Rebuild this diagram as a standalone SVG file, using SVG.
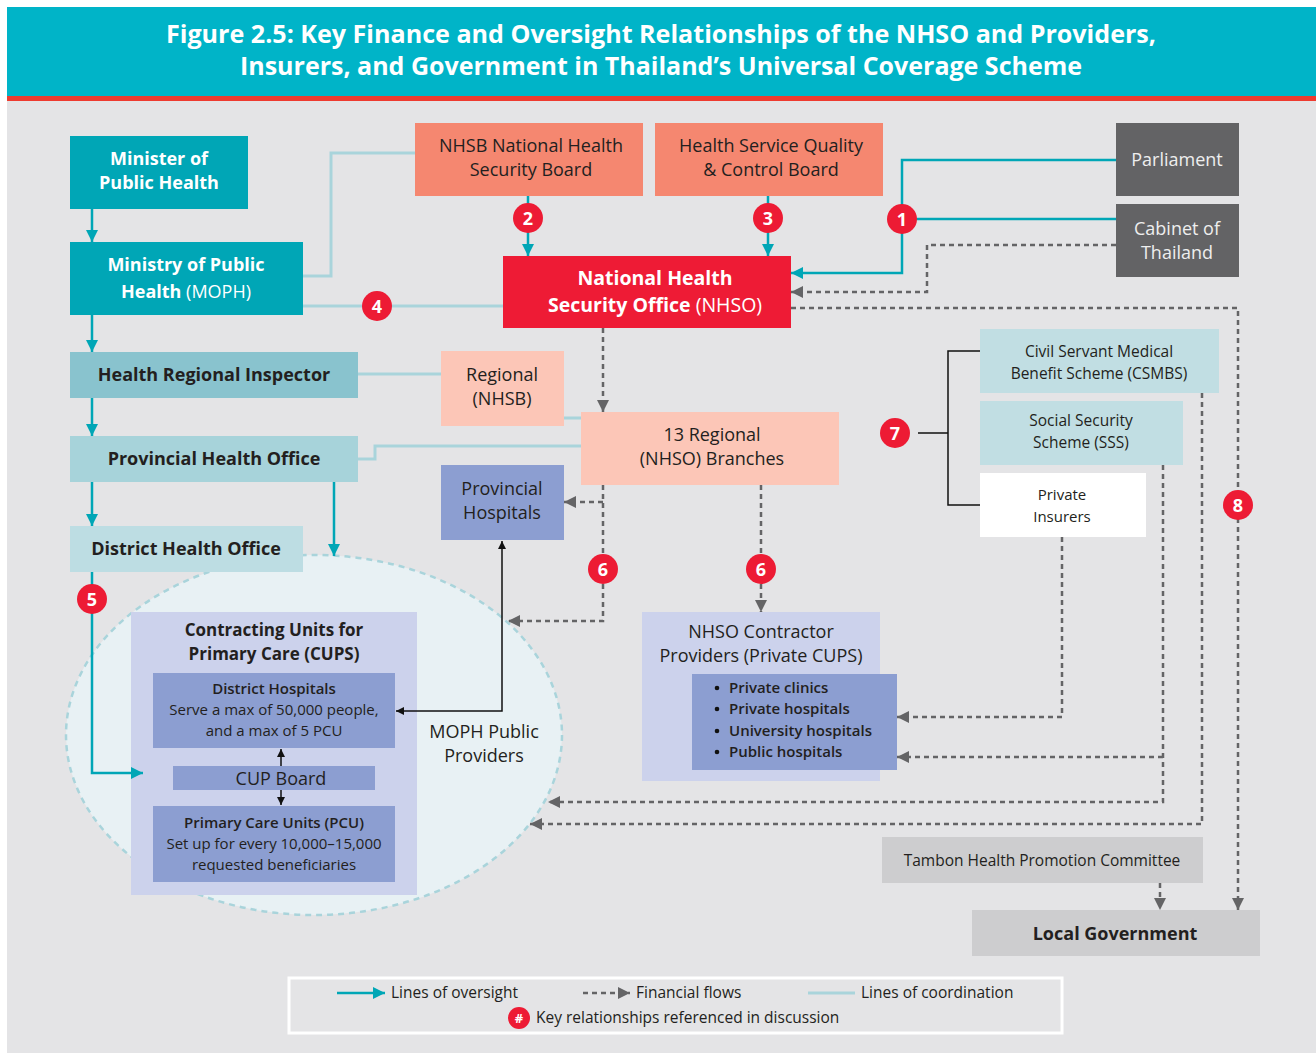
<svg xmlns="http://www.w3.org/2000/svg" width="1316" height="1053" viewBox="0 0 1316 1053">
<defs>
<style>
text{font-family:"Open Sans",Lato,"Liberation Sans",sans-serif;fill:#231F20;text-anchor:middle}
.w{fill:#fff}
.b{font-weight:700}
.t{font-size:18px}
.s{font-size:15.5px}
.m{font-size:15px}
.ov{fill:none;stroke:#00A6B6;stroke-width:2.5}
.fin{fill:none;stroke:#646466;stroke-width:2.5;stroke-dasharray:5 4}
.co{fill:none;stroke:#A9D4DB;stroke-width:3}
.blk{fill:none;stroke:#111;stroke-width:1.5}
.badge circle{fill:#ED1B34}
.badge text{fill:#fff;font-weight:700;font-size:18px}
.l{text-anchor:start}
</style>
<marker id="ta" viewBox="0 0 10 10" refX="10" refY="5" markerWidth="12" markerHeight="12" markerUnits="userSpaceOnUse" orient="auto"><path d="M0,0 L10,5 L0,10 z" fill="#00A6B6"/></marker>
<marker id="ga" viewBox="0 0 10 10" refX="10" refY="5" markerWidth="12" markerHeight="12" markerUnits="userSpaceOnUse" orient="auto"><path d="M0,0 L10,5 L0,10 z" fill="#646466"/></marker>
<marker id="ka" viewBox="0 0 10 10" refX="10" refY="5" markerWidth="8" markerHeight="8" markerUnits="userSpaceOnUse" orient="auto-start-reverse"><path d="M0,0 L10,5 L0,10 z" fill="#111"/></marker>
</defs>
<rect x="0" y="0" width="1316" height="1053" fill="#fff"/>
<rect x="7" y="101" width="1309" height="952" fill="#E4E4E6"/>
<g id="title">
<rect x="7" y="7" width="1309" height="90" fill="#00B4C8"/>
<rect x="7" y="96" width="1309" height="5" fill="#EE3B2F"/>
<text x="661" y="43" class="w b" font-size="25" textLength="990" lengthAdjust="spacingAndGlyphs">Figure 2.5: Key Finance and Oversight Relationships of the NHSO and Providers,</text>
<text x="661" y="75" class="w b" font-size="25" textLength="842" lengthAdjust="spacingAndGlyphs">Insurers, and Government in Thailand’s Universal Coverage Scheme</text>
</g>
<g id="moph-providers-ellipse">
<ellipse cx="314" cy="735" rx="248" ry="180" fill="#E8F1F4" stroke="#A9D4DB" stroke-width="2.5" stroke-dasharray="6 5"/>
<text x="484" y="738" class="t">MOPH Public</text>
<text x="484" y="762" class="t">Providers</text>
</g>
<g id="minister"><rect x="70" y="136" width="178" height="73" fill="#00A6B6"/><text x="159" y="165" class="w b t">Minister of</text><text x="159" y="189" class="w b t">Public Health</text></g>
<g id="moph"><rect x="70" y="242" width="233" height="73" fill="#00A6B6"/><text x="186" y="271" class="w b t">Ministry of Public</text><text x="186" y="298" class="w t"><tspan class="b">Health</tspan> (MOPH)</text></g>
<g id="hri"><rect x="70" y="352" width="288" height="46" fill="#89C3CE"/><text x="214" y="381" class="b t">Health Regional Inspector</text></g>
<g id="pho"><rect x="70" y="436" width="288" height="46" fill="#A7D3DA"/><text x="214" y="465" class="b t">Provincial Health Office</text></g>
<g id="dho"><rect x="70" y="526" width="233" height="46" fill="#BDDDE3"/><text x="186" y="555" class="b t">District Health Office</text></g>
<g id="nhsb"><rect x="415" y="123" width="228" height="73" fill="#F58770"/><text x="531" y="152" class="t">NHSB National Health</text><text x="531" y="176" class="t">Security Board</text></g>
<g id="hsqcb"><rect x="655" y="123" width="228" height="73" fill="#F58770"/><text x="771" y="152" class="t">Health Service Quality</text><text x="771" y="176" class="t">&amp; Control Board</text></g>
<g id="parliament"><rect x="1116" y="123" width="123" height="73" fill="#636365"/><text x="1177" y="166" class="t" style="fill:#eee">Parliament</text></g>
<g id="cabinet"><rect x="1116" y="204" width="123" height="73" fill="#636365"/><text x="1177" y="235" class="t" style="fill:#eee">Cabinet of</text><text x="1177" y="259" class="t" style="fill:#eee">Thailand</text></g>
<g id="nhso"><rect x="503" y="256" width="288" height="72" fill="#EE1B35"/><text x="655" y="285" class="w b" font-size="19.5">National Health</text><text x="655" y="312" class="w" font-size="19.5"><tspan class="b">Security Office</tspan> (NHSO)</text></g>
<g id="regional-nhsb"><rect x="441" y="351" width="123" height="75" fill="#FCC6B7"/><text x="502" y="381" class="t">Regional</text><text x="502" y="405" class="t">(NHSB)</text></g>
<g id="regional-nhso"><rect x="581" y="412" width="258" height="73" fill="#FCC6B7"/><text x="712" y="441" class="t">13 Regional</text><text x="712" y="465" class="t">(NHSO) Branches</text></g>
<g id="provincial-hospitals"><rect x="441" y="465" width="123" height="75" fill="#8C9ED1"/><text x="502" y="495" class="t">Provincial</text><text x="502" y="519" class="t">Hospitals</text></g>
<g id="csmbs"><rect x="980" y="329" width="239" height="64" fill="#C1DEE3"/><text x="1099" y="357" class="s">Civil Servant Medical</text><text x="1099" y="379" class="s">Benefit Scheme (CSMBS)</text></g>
<g id="sss"><rect x="980" y="401" width="203" height="64" fill="#C1DEE3"/><text x="1081" y="426" class="s">Social Security</text><text x="1081" y="448" class="s">Scheme (SSS)</text></g>
<g id="private-insurers"><rect x="980" y="473" width="166" height="64" fill="#fff"/><text x="1062" y="500" font-size="15">Private</text><text x="1062" y="522" font-size="15">Insurers</text></g>
<g id="cups">
<rect x="131" y="612" width="286" height="283" fill="#CCD2EC"/>
<text x="274" y="636" class="b" font-size="17">Contracting Units for</text>
<text x="274" y="660" class="b" font-size="17">Primary Care (CUPS)</text>
</g>
<g id="district-hospitals"><rect x="153" y="673" width="242" height="75" fill="#8C9ED1"/><text x="274" y="694" class="m" font-weight="600">District Hospitals</text><text x="274" y="715" class="m">Serve a max of 50,000 people,</text><text x="274" y="736" class="m">and a max of 5 PCU</text></g>
<g id="cup-board"><rect x="173" y="766" width="202" height="24" fill="#8C9ED1"/><text x="281" y="785" class="t">CUP Board</text></g>
<g id="pcu"><rect x="153" y="806" width="242" height="76" fill="#8C9ED1"/><text x="274" y="828" class="m" font-weight="600">Primary Care Units (PCU)</text><text x="274" y="849" class="m">Set up for every 10,000–15,000</text><text x="274" y="870" class="m">requested beneficiaries</text></g>
<g id="private-cups">
<rect x="642" y="612" width="238" height="169" fill="#CCD2EC"/>
<text x="761" y="638" class="t">NHSO Contractor</text>
<text x="761" y="662" class="t">Providers (Private CUPS)</text>
<rect x="692" y="674" width="205" height="96" fill="#8C9ED1"/>
<g font-size="15" font-weight="600">
<circle cx="717" cy="688" r="2.3" fill="#111"/><text x="729" y="693" class="l">Private clinics</text>
<circle cx="717" cy="709" r="2.3" fill="#111"/><text x="729" y="714" class="l">Private hospitals</text>
<circle cx="717" cy="731" r="2.3" fill="#111"/><text x="729" y="736" class="l">University hospitals</text>
<circle cx="717" cy="752" r="2.3" fill="#111"/><text x="729" y="757" class="l">Public hospitals</text>
</g>
</g>
<g id="tambon"><rect x="882" y="837" width="321" height="46" fill="#CDCDCF"/><text x="1042" y="866" class="s">Tambon Health Promotion Committee</text></g>
<g id="local-gov"><rect x="972" y="910" width="288" height="46" fill="#CDCDCF"/><text x="1115" y="940" class="b t">Local Government</text></g>
<g id="connectors">
<path class="co" d="M303 276 H331 V153 H415"/>
<path class="co" d="M303 306 H503"/>
<path class="co" d="M358 374 H441"/>
<path class="co" d="M564 418 H581"/>
<path class="co" d="M358 459 H375 V446 H581"/>
<path class="ov" d="M92 209 V242" marker-end="url(#ta)"/>
<path class="ov" d="M92 315 V352" marker-end="url(#ta)"/>
<path class="ov" d="M92 398 V436" marker-end="url(#ta)"/>
<path class="ov" d="M92 482 V526" marker-end="url(#ta)"/>
<path class="ov" d="M334 482 V556" marker-end="url(#ta)"/>
<path class="ov" d="M92 572 V773 H143" marker-end="url(#ta)"/>
<path class="ov" d="M528 196 V256" marker-end="url(#ta)"/>
<path class="ov" d="M768 196 V256" marker-end="url(#ta)"/>
<path class="ov" d="M1116 160 H902 V273 H791" marker-end="url(#ta)"/>
<path class="ov" d="M1116 219 H902"/>
<path class="fin" d="M1116 245 H927 V292 H791" marker-end="url(#ga)"/>
<path class="fin" d="M791 308 H1238 V910" marker-end="url(#ga)"/>
<path class="fin" d="M603 328 V412" marker-end="url(#ga)"/>
<path class="fin" d="M603 485 V621 H508" marker-end="url(#ga)"/>
<path class="fin" d="M603 502 H564" marker-end="url(#ga)"/>
<path class="fin" d="M761 485 V612" marker-end="url(#ga)"/>
<path class="fin" d="M1062 537 V717 H897" marker-end="url(#ga)"/>
<path class="fin" d="M1163 465 V802 H548" marker-end="url(#ga)"/>
<path class="fin" d="M1163 757 H897" marker-end="url(#ga)"/>
<path class="fin" d="M1202 393 V824 H530" marker-end="url(#ga)"/>
<path class="fin" d="M1160 883 V910" marker-end="url(#ga)"/>
<path class="blk" d="M502 541 V711 H396" marker-start="url(#ka)" marker-end="url(#ka)"/>
<path class="blk" d="M281 766 V749" marker-end="url(#ka)"/>
<path class="blk" d="M281 790 V805" marker-end="url(#ka)"/>
<path class="blk" d="M918 433 H948 M980 351 H948 V505 H980"/>
</g>
<g id="badges">
<g class="badge"><circle cx="902" cy="219" r="15"/><text x="902" y="225.5">1</text></g>
<g class="badge"><circle cx="528" cy="218" r="15"/><text x="528" y="224.5">2</text></g>
<g class="badge"><circle cx="768" cy="218" r="15"/><text x="768" y="224.5">3</text></g>
<g class="badge"><circle cx="377" cy="306" r="15"/><text x="377" y="312.5">4</text></g>
<g class="badge"><circle cx="92" cy="599" r="15"/><text x="92" y="605.5">5</text></g>
<g class="badge"><circle cx="603" cy="569" r="15"/><text x="603" y="575.5">6</text></g>
<g class="badge"><circle cx="761" cy="569" r="15"/><text x="761" y="575.5">6</text></g>
<g class="badge"><circle cx="895" cy="433" r="15"/><text x="895" y="439.5">7</text></g>
<g class="badge"><circle cx="1238" cy="505" r="15"/><text x="1238" y="511.5">8</text></g>
</g>
<g id="legend">
<rect x="289" y="978" width="773" height="55" fill="#E4E4E6" stroke="#fff" stroke-width="3"/>
<path class="ov" d="M337 993 H385" marker-end="url(#ta)"/>
<text x="391" y="998" class="s l">Lines of oversight</text>
<path class="fin" d="M583 993 H630" marker-end="url(#ga)"/>
<text x="636" y="998" class="s l">Financial flows</text>
<path class="co" d="M808 993 H855"/>
<text x="861" y="998" class="s l">Lines of coordination</text>
<g class="badge"><circle cx="519" cy="1018" r="11"/><text x="519" y="1023" style="font-size:13px">#</text></g>
<text x="536" y="1023" class="s l">Key relationships referenced in discussion</text>
</g>
</svg>
